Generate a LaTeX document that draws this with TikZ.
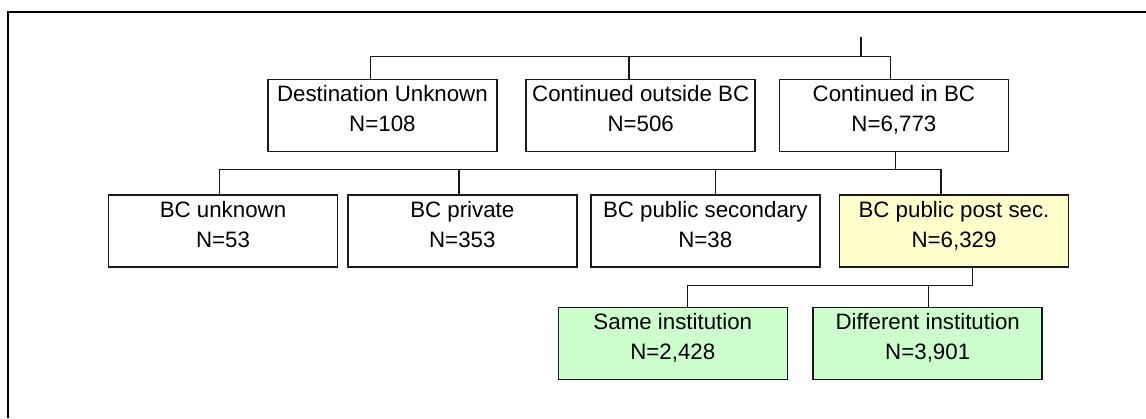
\documentclass[tikz,border=0pt]{standalone}
\usepackage{fontspec}
\setmainfont{Liberation Sans}
\usepackage{xcolor}
\usepackage{tikz}
\definecolor{postfill}{HTML}{FFFFCC}
\definecolor{instfill}{HTML}{CCFFCC}
\tikzset{
    flowbox/.style={draw=black!90, line width=0.75pt, minimum width=114.5pt,
        minimum height=36pt, inner sep=0pt, align=center, text depth=6.8pt,
        font=\fontsize{11.15}{15}\selectfont},
    link/.style={line width=0.65pt, black!90}
}

\begin{document}
\begin{tikzpicture}[x=0.5pt,y=-0.5pt]
                \useasboundingbox (0,0) rectangle (1146,418);
                \draw[line width=1.1pt] (8,418) -- (8,12) -- (1146,12);
                % first level
                \node[flowbox] (dest) at (382.4,115.7) {Destination Unknown\\N=108};
                \node[flowbox] (outside) at (640.7,115.7) {Continued outside BC\\N=506};
                \node[flowbox] (inbc) at (893.9,115.7) {Continued in BC\\N=6,773};
                % second level
                \node[flowbox] (unk) at (223,230.8) {BC unknown\\N=53};
                \node[flowbox] (priv) at (462.3,230.8) {BC private\\N=353};
                \node[flowbox] (sec) at (705.3,230.8) {BC public secondary\\N=38};
                \node[flowbox,fill=postfill] (post) at (954,230.8) {BC public post sec.\\N=6,329};
                % third level
                \node[flowbox,fill=instfill] (same) at (672.8,343.5) {Same institution\\N=2,428};
                \node[flowbox,fill=instfill] (diff) at (927.7,343.5) {Different institution\\N=3,901};
                % connectors
                \coordinate (top) at (861,37);
                \coordinate (j1) at (861,56.7);
                \draw[link] (top) -- (j1);
                \draw[link] ([xshift=-5.85pt]dest.north) |- (j1);
                \draw[link] ([xshift=-5.85pt]outside.north) |- (j1);
                \draw[link] ([xshift=-1.8pt]inbc.north) |- (j1);
                \coordinate (j2) at ([xshift=0.9pt,yshift=-8.5pt]inbc.south);
                \draw[link] ([xshift=0.9pt]inbc.south) -- (j2);
                \draw[link] ([xshift=-1.85pt]unk.north) |- (j2);
                \draw[link] ([xshift=-1.65pt]priv.north) |- (j2);
                \draw[link] ([xshift=5pt]sec.north) |- (j2);
                \draw[link] ([xshift=-6.5pt]post.north) |- (j2);
                \coordinate (j3) at ([xshift=9.15pt,yshift=-9.1pt]post.south);
                \draw[link] ([xshift=9.15pt]post.south) -- (j3);
                \draw[link] ([xshift=7.5pt]same.north) |- (j3);
                \draw[link] ([xshift=0.5pt]diff.north) |- (j3);
            \end{tikzpicture}
\end{document}
